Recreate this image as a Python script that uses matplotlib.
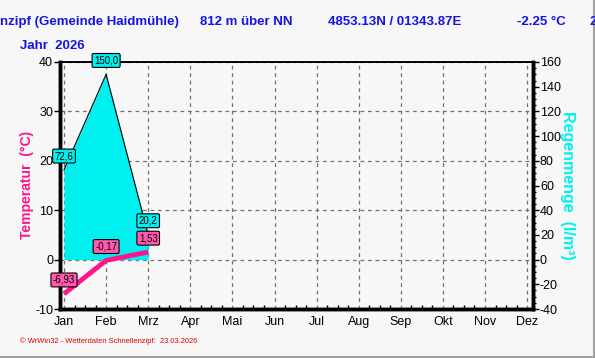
import matplotlib
matplotlib.use('Agg')
import matplotlib.pyplot as plt
from matplotlib.ticker import MultipleLocator
import numpy as np

months = ['Jan', 'Feb', 'Mrz', 'Apr', 'Mai', 'Jun', 'Jul', 'Aug', 'Sep', 'Okt', 'Nov', 'Dez']
temp = [-6.93, -0.17, 1.53]
rain = [72.6, 150.0, 20.2]
temp_labels = ['-6,93', '-0,17', '1,53']
rain_labels = ['72,6', '150,0', '20,2']

BG = '#f7f7f7'
PINK = '#ff148c'
CYAN = '#00f0f0'
BLUE = '#1414e6'

plt.rcParams['font.family'] = ['Liberation Sans', 'DejaVu Sans']
plt.rcParams['axes.unicode_minus'] = False

fig = plt.figure(figsize=(5.95, 3.58), dpi=100, facecolor=BG)
ax = fig.add_axes([60 / 595, 1 - 309 / 358, 473 / 595, 247 / 358])
ax.set_facecolor(BG)
ax2 = ax.twinx()

x = np.arange(len(temp))

# left axis (temperature)
ax.set_xlim(-0.095, 11.14)
ax.set_ylim(-10, 40)
ax.set_xticks(range(len(months)))
ax.set_xticklabels(months, fontsize=9)
ax.xaxis.set_minor_locator(MultipleLocator(0.25))
ax.yaxis.set_major_locator(MultipleLocator(10))
ax.tick_params(axis='x', which='major', length=0, pad=5)
ax.tick_params(axis='x', which='minor', length=3, direction='in', width=1)
ax.tick_params(axis='y', which='major', length=4, width=1, labelsize=9, pad=1)
ax.grid(True, which='major', linestyle=(0, (3, 3)), color='#707070', linewidth=0.9)
ax.set_axisbelow(True)

# right axis (rain)
ax2.set_ylim(-40, 160)
ax2.yaxis.set_major_locator(MultipleLocator(20))
ax2.yaxis.set_minor_locator(MultipleLocator(5))
ax2.tick_params(axis='y', which='major', length=4, width=1, labelsize=9, pad=1)
ax2.tick_params(axis='y', which='minor', length=2, width=1)

for a in (ax, ax2):
    a.spines['left'].set_linewidth(2.5)
    a.spines['bottom'].set_linewidth(2.5)
    a.spines['right'].set_linewidth(2.5)
    a.spines['top'].set_linewidth(1.2)

ax2.fill_between(x, 0, rain, color=CYAN, linewidth=0, zorder=2)
ax2.plot(x, rain, color='black', linewidth=0.8, zorder=3)
ax2.plot(x, temp, color=PINK, linewidth=3.5, solid_capstyle='butt',
         transform=ax.transData, zorder=4)

for xi, r, lab in zip(x, rain, rain_labels):
    ax2.annotate(lab, (xi, r), xytext=(0, 10), textcoords='offset points',
                 ha='center', va='center', fontsize=7, zorder=6,
                 bbox=dict(boxstyle='round,pad=0.2,rounding_size=0.15', fc=CYAN, ec='black', lw=0.8))
for xi, t, lab in zip(x, temp, temp_labels):
    ax2.annotate(lab, (xi, t), xytext=(0, 10), textcoords='offset points',
                 ha='center', va='center', fontsize=7, color='black', zorder=6,
                 xycoords=ax.transData,
                 bbox=dict(boxstyle='round,pad=0.2,rounding_size=0.15', fc='#ff5aae', ec='black', lw=0.8))

# axis titles
fig.text(27 / 595, 1 - 185 / 358, 'Temperatur  (°C)', rotation=90, color=PINK,
         fontsize=10, fontweight='bold', ha='center', va='center')
fig.text(568 / 595, 1 - 185 / 358, 'Regenmenge  (l/m³)', rotation=-90, color=CYAN,
         fontsize=11.5, fontweight='bold', ha='center', va='center')

# header
hdr_y = 1 - 22 / 358
hdr = dict(color=BLUE, fontsize=9.5, fontweight='bold', va='center')
fig.text(0 / 595, hdr_y, 'nzipf (Gemeinde Haidmühle)', **hdr)
fig.text(200 / 595, hdr_y, '812 m über NN', **hdr)
fig.text(328 / 595, hdr_y, '4853.13N / 01343.87E', **hdr)
fig.text(517 / 595, hdr_y, '-2.25 °C', **hdr)
fig.text(589 / 595, hdr_y, '2', **hdr)
fig.text(20 / 595, 1 - 46 / 358, 'Jahr  2026', **hdr)

fig.text(20 / 595, 1 - 341 / 358, '© WrWin32 - Wetterdaten Schnellenzipf:  23.03.2026',
         color='#e00000', fontsize=5.4, va='center')

# window border
fig.add_artist(plt.Line2D([0, 1], [1 / 358, 1 / 358], color='#a0a0a0', lw=1.5))
fig.add_artist(plt.Line2D([593.5 / 595, 593.5 / 595], [0, 1], color='#a0a0a0', lw=1.5))

fig.savefig('out.png', dpi=100, facecolor=BG)
